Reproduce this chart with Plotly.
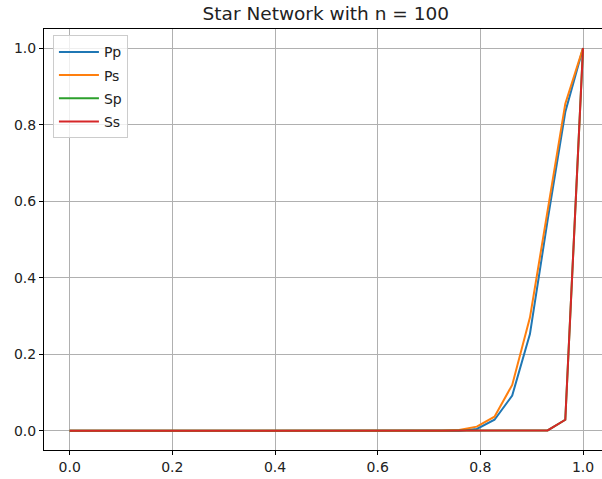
import plotly.graph_objects as go

x = [0.0, 0.0345, 0.069, 0.1034, 0.1379, 0.1724, 0.2069, 0.2414, 0.2759, 0.3103,
     0.3448, 0.3793, 0.4138, 0.4483, 0.4828, 0.5172, 0.5517, 0.5862, 0.6207, 0.6552,
     0.6897, 0.7241, 0.7586, 0.7931, 0.8276, 0.8621, 0.8966, 0.931, 0.9655, 1.0]

pp = [0.0] * 22 + [0.0005, 0.005, 0.029, 0.092, 0.253, 0.55, 0.833, 1.0]
ps = [0.0] * 22 + [0.002, 0.011, 0.037, 0.12, 0.296, 0.575, 0.855, 1.0]
sp = [0.0] * 27 + [0.001, 0.029, 1.0]
ss = [0.0] * 27 + [0.001, 0.029, 1.0]

names = ["Pp", "Ps", "Sp", "Ss"]
series = [pp, ps, sp, ss]
colors = ["#1f77b4", "#ff7f0e", "#2ca02c", "#d62728"]

fig = go.Figure()
for n, s, c in zip(names, series, colors):
    fig.add_trace(go.Scatter(x=x, y=s, mode="lines", name=n, legendgroup=n,
                             line=dict(color=c, width=2)))

font = dict(family="DejaVu Sans", size=14, color="#222222")
axis_common = dict(
    showgrid=True, gridcolor="#b0b0b0", gridwidth=0.8,
    zeroline=False, showline=True, linecolor="#000000", linewidth=1,
    ticks="outside", ticklen=4, tickcolor="#000000", tickwidth=1,
    tickfont=font, tickformat=".1f",
)
fig.update_layout(
    width=602, height=479,
    margin=dict(l=44, r=0, t=29, b=29),
    paper_bgcolor="white", plot_bgcolor="white",
    font=font,
    title=dict(text="Star Network with n = 100", x=0.505, xref="paper",
               xanchor="center", y=1 - 14 / 479, yref="container",
               yanchor="middle", font=dict(family="DejaVu Sans", size=18.5, color="#222222")),
    xaxis=dict(range=[-0.05, 1.037], tickvals=[0, 0.2, 0.4, 0.6, 0.8, 1.0],
               mirror=True, **axis_common),
    yaxis=dict(range=[-0.05, 1.05], tickvals=[0, 0.2, 0.4, 0.6, 0.8, 1.0],
               mirror=False, **axis_common),
    legend=dict(x=0.016, y=0.985, xanchor="left", yanchor="top",
                bgcolor="rgba(255,255,255,0.8)", bordercolor="#cccccc", borderwidth=1,
                font=dict(family="DejaVu Sans", size=14, color="#222222"),
                traceorder="grouped", tracegroupgap=2, itemwidth=40),
    showlegend=True,
)
fig.write_html("out.html")
